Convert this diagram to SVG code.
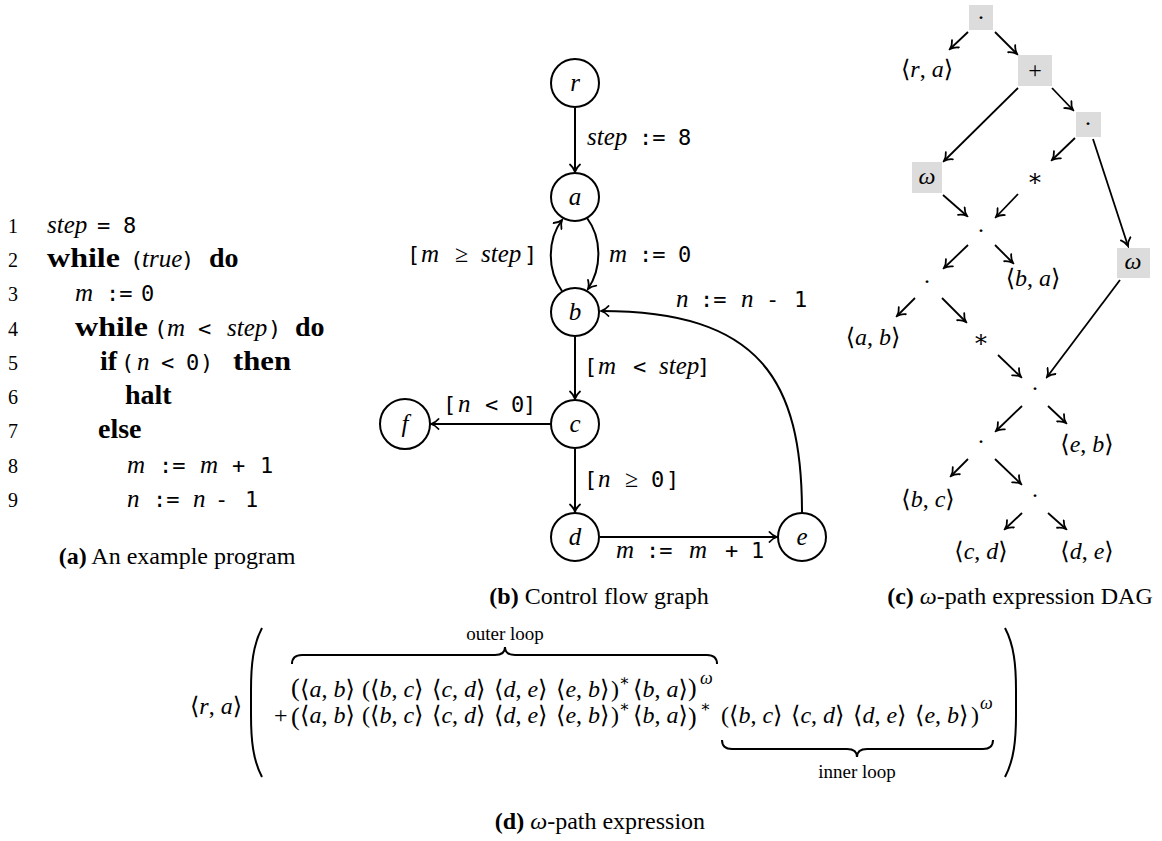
<svg xmlns="http://www.w3.org/2000/svg" width="1162" height="841" viewBox="0 0 1162 841">
<defs>
<style>
text{fill:#000}
.it{font-family:"Liberation Serif","DejaVu Serif",serif;font-style:italic;font-size:25px}
.bf{font-family:"Liberation Serif","DejaVu Serif",serif;font-weight:bold;font-size:28px}
.mo{font-family:"DejaVu Sans Mono","Liberation Mono",monospace;font-size:22px}
.ms{font-family:"Liberation Serif","DejaVu Serif","DejaVu Sans",serif;font-size:24px}
.ln{font-family:"Liberation Serif","DejaVu Serif",serif;font-size:20px;fill:#555}
.cap{font-family:"Liberation Serif","DejaVu Serif",serif;font-size:24px}
.sm{font-family:"Liberation Serif","DejaVu Serif",serif;font-size:19px}
.i{font-style:italic}
.b{font-weight:bold}
.node{fill:#fff;stroke:#000;stroke-width:2}
.box{fill:#dcdcdc;stroke:none}
.e{fill:none;stroke:#000;stroke-width:2;marker-end:url(#ah)}
.d{fill:none;stroke:#000;stroke-width:1.8;marker-end:url(#ah)}
.br{fill:none;stroke:#000;stroke-width:2}
</style>
<marker id="ah" viewBox="-9 -6 11 12" refX="0" refY="0" markerWidth="11" markerHeight="12" markerUnits="userSpaceOnUse" orient="auto">
<path d="M -7.5,-5 C -5,-2 -2,-0.6 0,0 C -2,0.6 -5,2 -7.5,5" fill="none" stroke="#000" stroke-width="1.8" stroke-linecap="round"/>
</marker>
</defs>

<!-- (a) program -->
<g id="program">
<g class="ln" text-anchor="end">
<text x="18" y="233">1</text><text x="18" y="267">2</text><text x="18" y="301">3</text>
<text x="18" y="336">4</text><text x="18" y="370">5</text><text x="18" y="404">6</text>
<text x="18" y="438">7</text><text x="18" y="473">8</text><text x="18" y="507">9</text>
</g>
<text y="233"><tspan class="it" x="47">step</tspan><tspan class="mo" x="97">=</tspan><tspan class="mo" x="123">8</tspan></text>
<text y="267"><tspan class="bf" x="47" textLength="73" lengthAdjust="spacingAndGlyphs">while</tspan><tspan class="mo" x="130">(</tspan><tspan class="it" x="142">true</tspan><tspan class="mo" x="181">)</tspan><tspan class="bf" x="209">do</tspan></text>
<text y="301"><tspan class="it" x="75">m</tspan><tspan class="mo" x="106">:=</tspan><tspan class="mo" x="141">0</tspan></text>
<text y="336"><tspan class="bf" x="75" textLength="73" lengthAdjust="spacingAndGlyphs">while</tspan><tspan class="mo" x="154">(</tspan><tspan class="it" x="167">m</tspan><tspan class="mo" x="198">&lt;</tspan><tspan class="it" x="227">step</tspan><tspan class="mo" x="268">)</tspan><tspan class="bf" x="295">do</tspan></text>
<text y="370"><tspan class="bf" x="100">if</tspan><tspan class="mo" x="121">(</tspan><tspan class="it" x="137">n</tspan><tspan class="mo" x="161">&lt;</tspan><tspan class="mo" x="186">0</tspan><tspan class="mo" x="200">)</tspan><tspan class="bf" x="233" textLength="58" lengthAdjust="spacingAndGlyphs">then</tspan></text>
<text y="404"><tspan class="bf" x="125">halt</tspan></text>
<text y="438"><tspan class="bf" x="98">else</tspan></text>
<text y="473"><tspan class="it" x="127">m</tspan><tspan class="mo" x="159">:=</tspan><tspan class="it" x="200">m</tspan><tspan class="mo" x="232">+</tspan><tspan class="mo" x="260">1</tspan></text>
<text y="507"><tspan class="it" x="127">n</tspan><tspan class="mo" x="153">:=</tspan><tspan class="it" x="193">n</tspan><tspan class="mo" x="215">-</tspan><tspan class="mo" x="245">1</tspan></text>
<text class="cap" x="177" y="564" text-anchor="middle"><tspan class="b">(a)</tspan> An example program</text>
</g>

<!-- (b) CFG -->
<g id="cfg-edges">
<path class="e" d="M575,108 L575,172"/>
<path class="e" d="M587,218 C602,238 602,268 588,289"/>
<path class="e" d="M562,291 C547,270 547,240 562,220"/>
<path class="e" d="M575,337 L575,399"/>
<path class="e" d="M551,424 L431,424"/>
<path class="e" d="M575,449 L575,512"/>
<path class="e" d="M600,537 L777,537"/>
<path class="e" d="M802,513 C802,380 760,311 601,311"/>
</g>
<g id="cfg-labels">
<text y="145"><tspan class="it" x="587">step</tspan><tspan class="mo" x="639">:=</tspan><tspan class="mo" x="678">8</tspan></text>
<text y="262"><tspan class="mo" x="407">[</tspan><tspan class="it" x="421">m</tspan><tspan class="ms" x="455">≥</tspan><tspan class="it" x="481">step</tspan><tspan class="mo" x="524">]</tspan></text>
<text y="262"><tspan class="it" x="609">m</tspan><tspan class="mo" x="639">:=</tspan><tspan class="mo" x="678">0</tspan></text>
<text y="307"><tspan class="it" x="676">n</tspan><tspan class="mo" x="700">:=</tspan><tspan class="it" x="741">n</tspan><tspan class="mo" x="766">-</tspan><tspan class="mo" x="794">1</tspan></text>
<text y="374"><tspan class="mo" x="584">[</tspan><tspan class="it" x="598">m</tspan><tspan class="mo" x="633">&lt;</tspan><tspan class="it" x="659">step</tspan><tspan class="mo" x="697">]</tspan></text>
<text y="412"><tspan class="mo" x="443">[</tspan><tspan class="it" x="458">n</tspan><tspan class="mo" x="485">&lt;</tspan><tspan class="mo" x="511">0</tspan><tspan class="mo" x="523">]</tspan></text>
<text y="487"><tspan class="mo" x="584">[</tspan><tspan class="it" x="598">n</tspan><tspan class="ms" x="625">≥</tspan><tspan class="mo" x="651">0</tspan><tspan class="mo" x="666">]</tspan></text>
<text y="558"><tspan class="it" x="616">m</tspan><tspan class="mo" x="646">:=</tspan><tspan class="it" x="689">m</tspan><tspan class="mo" x="725">+</tspan><tspan class="mo" x="751">1</tspan></text>
</g>
<g id="node-r"><circle class="node" cx="575" cy="83" r="24"/><text class="it" x="575" y="91" text-anchor="middle">r</text></g>
<g id="node-a"><circle class="node" cx="575" cy="197" r="24"/><text class="it" x="575" y="205" text-anchor="middle">a</text></g>
<g id="node-b"><circle class="node" cx="575" cy="312" r="24"/><text class="it" x="575" y="320" text-anchor="middle">b</text></g>
<g id="node-c"><circle class="node" cx="575" cy="424" r="24"/><text class="it" x="575" y="432" text-anchor="middle">c</text></g>
<g id="node-f"><circle class="node" cx="405" cy="424" r="25"/><text class="it" x="405" y="432" text-anchor="middle">f</text></g>
<g id="node-d"><circle class="node" cx="575" cy="537" r="24"/><text class="it" x="575" y="545" text-anchor="middle">d</text></g>
<g id="node-e"><circle class="node" cx="802" cy="537" r="24"/><text class="it" x="802" y="545" text-anchor="middle">e</text></g>
<text class="cap" x="599" y="604" text-anchor="middle"><tspan class="b">(b)</tspan> Control flow graph</text>

<!-- (c) DAG -->
<g id="dag-edges">
<path class="d" d="M968,32 L950,49"/>
<path class="d" d="M995,32 L1017,54"/>
<path class="d" d="M1018,88 L944,161"/>
<path class="d" d="M1052,88 L1073,110"/>
<path class="d" d="M1075,138 L1052,160"/>
<path class="d" d="M1093,139 L1128,246"/>
<path class="d" d="M943,195 L967,216"/>
<path class="d" d="M1018,194 L996,217"/>
<path class="d" d="M968,245 L944,268"/>
<path class="d" d="M995,245 L1013,263"/>
<path class="d" d="M915,298 L897,316"/>
<path class="d" d="M942,298 L966,322"/>
<path class="d" d="M998,355 L1021,377"/>
<path class="d" d="M1120,280 L1047,377"/>
<path class="d" d="M1022,406 L996,431"/>
<path class="d" d="M1048,406 L1066,423"/>
<path class="d" d="M968,459 L951,476"/>
<path class="d" d="M995,459 L1021,484"/>
<path class="d" d="M1022,513 L1005,529"/>
<path class="d" d="M1048,513 L1066,529"/>
</g>
<g class="ms" text-anchor="middle" font-size="25">
<g id="dag-dot1"><rect class="box" x="969" y="5" width="24" height="25"/><text x="981" y="25">·</text></g>
<g id="dag-ra"><text x="927" y="77">⟨<tspan class="i">r</tspan>, <tspan class="i">a</tspan>⟩</text></g>
<g id="dag-plus"><rect class="box" x="1018" y="55" width="34" height="31"/><text x="1035" y="78">+</text></g>
<g id="dag-dot2"><rect class="box" x="1076" y="112" width="25" height="25"/><text x="1088" y="131">·</text></g>
<g id="dag-omega1"><rect class="box" x="912" y="162" width="30" height="31"/><text class="i" x="927" y="184">ω</text></g>
<g id="dag-star1"><text x="1035" y="186">∗</text></g>
<g id="dag-dot3"><text x="981" y="238">·</text></g>
<g id="dag-ba"><text x="1033" y="286">⟨<tspan class="i">b</tspan>, <tspan class="i">a</tspan>⟩</text></g>
<g id="dag-omega2"><rect class="box" x="1117" y="248" width="33" height="30"/><text class="i" x="1133" y="269">ω</text></g>
<g id="dag-dot4"><text x="927" y="289">·</text></g>
<g id="dag-ab"><text x="873" y="345">⟨<tspan class="i">a</tspan>, <tspan class="i">b</tspan>⟩</text></g>
<g id="dag-star2"><text x="981" y="347">∗</text></g>
<g id="dag-dot5"><text x="1035" y="396">·</text></g>
<g id="dag-eb"><text x="1087" y="452">⟨<tspan class="i">e</tspan>, <tspan class="i">b</tspan>⟩</text></g>
<g id="dag-dot6"><text x="981" y="449">·</text></g>
<g id="dag-bc"><text x="928" y="507">⟨<tspan class="i">b</tspan>, <tspan class="i">c</tspan>⟩</text></g>
<g id="dag-dot7"><text x="1035" y="503">·</text></g>
<g id="dag-cd"><text x="981" y="559">⟨<tspan class="i">c</tspan>, <tspan class="i">d</tspan>⟩</text></g>
<g id="dag-de"><text x="1087" y="559">⟨<tspan class="i">d</tspan>, <tspan class="i">e</tspan>⟩</text></g>
</g>
<text class="cap" x="1020" y="604" text-anchor="middle"><tspan class="b">(c)</tspan> <tspan class="i">ω</tspan>-path expression DAG</text>

<!-- (d) expression -->
<g id="expression">
<text class="ms" x="216" y="714" text-anchor="middle" font-size="25">⟨<tspan class="i">r</tspan>, <tspan class="i">a</tspan>⟩</text>
<path class="br" d="M262,628 C253,645 251,665 251,690 L251,715 C251,740 253,760 262,777"/>
<path class="br" d="M1005,628 C1014,645 1016,665 1016,690 L1016,715 C1016,740 1014,760 1005,777"/>
<text class="sm" x="505" y="640" text-anchor="middle">outer loop</text>
<path class="br" d="M292,664 Q292,655 302,655 L495,655 Q505,655 505,647 Q505,655 515,655 L707,655 Q717,655 717,664"/>
<text class="ms">
<tspan x="291" y="696" font-size="26">(</tspan>
<tspan x="300" y="697">⟨<tspan class="i">a</tspan>, <tspan class="i">b</tspan>⟩</tspan>
<tspan x="362" y="697">(</tspan>
<tspan x="370" y="697">⟨<tspan class="i">b</tspan>, <tspan class="i">c</tspan>⟩</tspan>
<tspan x="432" y="697">⟨<tspan class="i">c</tspan>, <tspan class="i">d</tspan>⟩</tspan>
<tspan x="494" y="697">⟨<tspan class="i">d</tspan>, <tspan class="i">e</tspan>⟩</tspan>
<tspan x="556" y="697">⟨<tspan class="i">e</tspan>, <tspan class="i">b</tspan>⟩</tspan>
<tspan x="611" y="697">)</tspan>
<tspan x="619" y="686" font-size="16">∗</tspan>
<tspan x="633" y="697">⟨<tspan class="i">b</tspan>, <tspan class="i">a</tspan>⟩</tspan>
<tspan x="688" y="696" font-size="26">)</tspan>
<tspan x="700" y="684" font-size="18" class="i">ω</tspan>
</text>
<text class="ms">
<tspan x="274" y="723">+</tspan>
<tspan x="291" y="725" font-size="26">(</tspan>
<tspan x="300" y="723">⟨<tspan class="i">a</tspan>, <tspan class="i">b</tspan>⟩</tspan>
<tspan x="362" y="723">(</tspan>
<tspan x="370" y="723">⟨<tspan class="i">b</tspan>, <tspan class="i">c</tspan>⟩</tspan>
<tspan x="432" y="723">⟨<tspan class="i">c</tspan>, <tspan class="i">d</tspan>⟩</tspan>
<tspan x="494" y="723">⟨<tspan class="i">d</tspan>, <tspan class="i">e</tspan>⟩</tspan>
<tspan x="556" y="723">⟨<tspan class="i">e</tspan>, <tspan class="i">b</tspan>⟩</tspan>
<tspan x="611" y="723">)</tspan>
<tspan x="619" y="712" font-size="16">∗</tspan>
<tspan x="633" y="723">⟨<tspan class="i">b</tspan>, <tspan class="i">a</tspan>⟩</tspan>
<tspan x="688" y="725" font-size="26">)</tspan>
<tspan x="700" y="712" font-size="16">∗</tspan>
<tspan x="721" y="723">(</tspan>
<tspan x="729" y="723">⟨<tspan class="i">b</tspan>, <tspan class="i">c</tspan>⟩</tspan>
<tspan x="791" y="723">⟨<tspan class="i">c</tspan>, <tspan class="i">d</tspan>⟩</tspan>
<tspan x="853" y="723">⟨<tspan class="i">d</tspan>, <tspan class="i">e</tspan>⟩</tspan>
<tspan x="915" y="723">⟨<tspan class="i">e</tspan>, <tspan class="i">b</tspan>⟩</tspan>
<tspan x="971" y="723">)</tspan>
<tspan x="980" y="709" font-size="18" class="i">ω</tspan>
</text>
<path class="br" d="M722,740 Q722,749 732,749 L847,749 Q857,749 857,757 Q857,749 867,749 L983,749 Q993,749 993,740"/>
<text class="sm" x="857" y="778" text-anchor="middle">inner loop</text>
<text class="cap" x="600" y="829" text-anchor="middle"><tspan class="b">(d)</tspan> <tspan class="i">ω</tspan>-path expression</text>
</g>
</svg>
